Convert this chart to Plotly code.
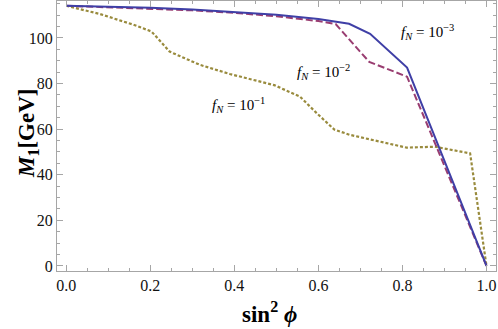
import plotly.graph_objects as go

# sin^2(phi) and M1 [GeV]
x_fn3 = [0.0, 0.1, 0.2, 0.3, 0.4, 0.5, 0.6, 0.673, 0.723, 0.811, 1.0]
m1_fn3 = [114.1, 113.7, 113.2, 112.5, 111.5, 110.2, 108.3, 106.2, 101.8, 87.0, 0.0]

x_fn2 = [0.0, 0.1, 0.2, 0.3, 0.4, 0.5, 0.6, 0.641, 0.721, 0.811, 1.0]
m1_fn2 = [114.1, 113.5, 112.9, 112.1, 111.0, 109.5, 107.4, 106.1, 89.5, 83.0, 0.0]

x_fn1 = [0.0, 0.08, 0.16, 0.203, 0.246, 0.318, 0.389, 0.437, 0.495, 0.556, 0.596,
         0.638, 0.675, 0.81, 0.877, 0.961, 1.0]
m1_fn1 = [114.1, 110.5, 105.8, 102.8, 94.0, 88.2, 84.2, 82.0, 79.3, 74.3, 67.0,
          59.8, 57.5, 51.9, 52.3, 49.4, 0.0]

labels = ["10<sup>−3</sup>", "10<sup>−2</sup>", "10<sup>−1</sup>"]
label_x = [0.86, 0.611, 0.41]
label_y = [102.5, 85.0, 70.5]

blue = "#3F3FA6"
purple = "#993D71"
olive = "#998B3D"
serif = "Liberation Serif"

fig = go.Figure()
fig.add_trace(go.Scatter(x=x_fn1, y=m1_fn1, mode="lines",
                         line=dict(color=olive, width=2.2, dash="3px,2px")))
fig.add_trace(go.Scatter(x=x_fn2, y=m1_fn2, mode="lines",
                         line=dict(color=purple, width=2, dash="7px,3px")))
fig.add_trace(go.Scatter(x=x_fn3, y=m1_fn3, mode="lines",
                         line=dict(color=blue, width=2)))

for lx, ly, lab in zip(label_x, label_y, labels):
    fig.add_annotation(x=lx, y=ly, text="<i>f</i><sub><i>N</i></sub> = " + lab,
                       showarrow=False, font=dict(family=serif, size=15, color="black"))

# axis titles placed by hand
fig.add_annotation(xref="paper", yref="paper", x=0.485, y=-0.152,
                   xanchor="center", yanchor="middle",
                   text="<b>sin<sup>2</sup> <i>ϕ</i></b>", showarrow=False,
                   font=dict(family=serif, size=23, color="black"))
fig.add_annotation(xref="paper", yref="paper", x=-0.066, y=0.511, textangle=-90,
                   xanchor="center", yanchor="middle",
                   text="<b><i>M</i><sub>1</sub>[GeV]</b>", showarrow=False,
                   font=dict(family=serif, size=23, color="black"))

frame = dict(showline=True, linecolor="#a6a6a6", linewidth=1, mirror="allticks",
             ticks="inside", tickcolor="#a6a6a6", showgrid=False, zeroline=False,
             automargin=False,
             tickfont=dict(family=serif, size=16, color="#111"))

fig.update_xaxes(range=[-0.022, 1.0226], dtick=0.2, tickformat=".1f", ticklen=6,
                 minor=dict(ticks="inside", dtick=0.05, ticklen=3, tickcolor="#a6a6a6"),
                 **frame)
fig.update_yaxes(range=[-2.2, 116.2], dtick=20, ticklen=6,
                 minor=dict(ticks="inside", dtick=5, ticklen=3, tickcolor="#a6a6a6"),
                 **frame)

fig.update_layout(width=498, height=329, showlegend=False,
                  font=dict(family=serif),
                  plot_bgcolor="white", paper_bgcolor="white",
                  margin=dict(l=57, r=2, t=1, b=58))

# drop the browser's default page margin so the figure sits at the corner
fig.write_html("out.html", config={"displayModeBar": False},
               post_script="document.body.style.margin='0';")
